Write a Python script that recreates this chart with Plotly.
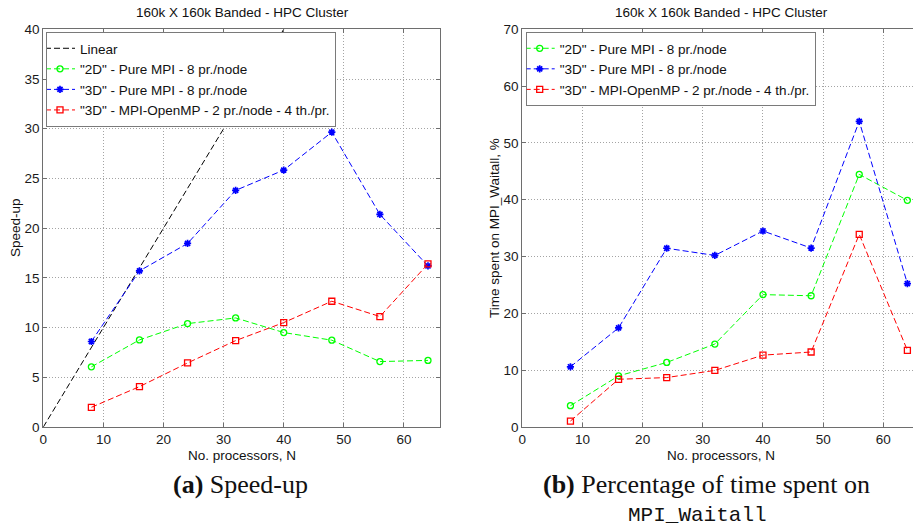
import plotly.graph_objects as go

# Number of processors
procs = [8, 16, 24, 32, 40, 48, 56, 64]
linear_n = [0, 64]

# Speed-up, 160k x 160k banded system
speedup_2d_pure = [6.05, 8.76, 10.4, 10.97, 9.5, 8.73, 6.58, 6.7]
speedup_3d_pure = [8.6, 15.7, 18.46, 23.8, 25.84, 29.66, 21.38, 16.2]
speedup_3d_hybrid = [1.98, 4.06, 6.44, 8.69, 10.5, 12.65, 11.11, 16.4]

# Share of run time spent in MPI_Waitall, %
wait_2d_pure = [3.75, 9.0, 11.36, 14.6, 23.3, 23.1, 44.46, 39.9]
wait_3d_pure = [10.6, 17.45, 31.46, 30.2, 34.5, 31.5, 53.8, 25.25]
wait_3d_hybrid = [1.05, 8.4, 8.7, 9.96, 12.65, 13.2, 33.9, 13.5]

names = ['"2D" - Pure MPI - 8 pr./node',
         '"3D" - Pure MPI - 8 pr./node',
         '"3D" - MPI-OpenMP - 2 pr./node - 4 th./pr.']

W, H = 913, 527
SANS = "Liberation Sans"
DASH = "6px,3px"
GREEN, BLUE, RED = "#00ff00", "#0000ff", "#ff0000"


def px_x(p):
    return p / W


def px_y(p):
    return 1 - p / H


def series(x, y, color, symbol, name, xa, ya, leg, msize=6, mline=1.3):
    return go.Scatter(
        x=x, y=y, name=name, mode="lines+markers",
        xaxis=xa, yaxis=ya, legend=leg,
        line=dict(color=color, width=1, dash=DASH),
        marker=dict(symbol=symbol, size=msize, color=color,
                    line=dict(color=color, width=mline)),
    )


fig = go.Figure()

# Speed-up panel
fig.add_trace(go.Scatter(x=linear_n, y=linear_n, name="Linear", mode="lines",
                         xaxis="x", yaxis="y", legend="legend",
                         line=dict(color="#000000", width=1, dash=DASH)))
fig.add_trace(series(procs, speedup_2d_pure, GREEN, "circle-open", names[0], "x", "y", "legend"))
fig.add_trace(series(procs, speedup_3d_pure, BLUE, "asterisk-open", names[1], "x", "y", "legend", 6, 1.7))
fig.add_trace(series(procs, speedup_3d_hybrid, RED, "square-open", names[2], "x", "y", "legend"))

# MPI_Waitall panel
fig.add_trace(series(procs, wait_2d_pure, GREEN, "circle-open", names[0], "x2", "y2", "legend2"))
fig.add_trace(series(procs, wait_3d_pure, BLUE, "asterisk-open", names[1], "x2", "y2", "legend2", 6, 1.7))
fig.add_trace(series(procs, wait_3d_hybrid, RED, "square-open", names[2], "x2", "y2", "legend2"))

axis_common = dict(
    showline=True, linecolor="#6e6e6e", linewidth=1,
    ticks="inside", ticklen=4, tickcolor="#6e6e6e", tickwidth=1,
    showgrid=True, gridcolor="#a4a4a4", griddash="1px,2px", gridwidth=1,
    zeroline=False, automargin=False,
    tickfont=dict(family=SANS, size=13.5, color="#1a1a1a"),
)

y_dom = [px_y(427), px_y(29.3)]

legend_common = dict(
    xanchor="left", yanchor="top",
    bgcolor="white", bordercolor="#7a7a7a", borderwidth=1,
    font=dict(family=SANS, size=13.5, color="#111111"),
    tracegroupgap=0, itemwidth=30, indentation=-7,
)

fig.update_layout(
    width=W, height=H,
    margin=dict(l=0, r=0, t=0, b=0),
    paper_bgcolor="white", plot_bgcolor="white",
    xaxis=dict(domain=[px_x(43.3), px_x(440)], range=[0, 66], dtick=10,
               anchor="y", mirror="ticks", **axis_common),
    yaxis=dict(domain=y_dom, range=[0, 40], dtick=5,
               anchor="x", mirror="ticks", **axis_common),
    xaxis2=dict(domain=[px_x(522.3), 1.0], range=[0, (W - 522.3) / 6.017], dtick=10,
                anchor="y2", mirror="ticks", **axis_common),
    yaxis2=dict(domain=y_dom, range=[0, 70], dtick=10,
                anchor="x2", mirror=False, **axis_common),
    legend=dict(x=px_x(46), y=px_y(32), **legend_common),
    legend2=dict(x=px_x(525.7), y=px_y(32), **legend_common),
    showlegend=True,
)

title_text = "160k X 160k Banded - HPC Cluster"
label_font = dict(family=SANS, size=13.5, color="#111111")
annotations = [
    dict(text=title_text, x=px_x(242), y=px_y(12.3)),
    dict(text=title_text, x=px_x(721), y=px_y(12.3)),
    dict(text="No. processors, N", x=px_x(241.6), y=px_y(455)),
    dict(text="No. processors, N", x=px_x(720.5), y=px_y(455)),
    dict(text="Speed-up", x=px_x(15), y=px_y(228), textangle=-90),
    dict(text="Time spent on MPI_Waitall, %", x=px_x(494), y=px_y(228), textangle=-90),
]
anns = [dict(xref="paper", yref="paper", showarrow=False, xanchor="center",
             yanchor="middle", font=label_font, **a) for a in annotations]

serif = dict(family="Liberation Serif", size=26, color="#111111")
anns += [
    dict(text="<b>(a)</b> Speed-up", x=px_x(240), y=px_y(484),
         xref="paper", yref="paper", showarrow=False, xanchor="center",
         yanchor="middle", font=serif),
    dict(text="<b>(b)</b> Percentage of time spent on", x=px_x(706), y=px_y(484),
         xref="paper", yref="paper", showarrow=False, xanchor="center",
         yanchor="middle", font=serif),
    dict(text="MPI_Waitall", x=px_x(697.5), y=px_y(515),
         xref="paper", yref="paper", showarrow=False, xanchor="center",
         yanchor="middle", font=dict(family="Liberation Mono", size=21, color="#111111")),
]
fig.update_layout(annotations=anns)

fig.write_html("out.html")
